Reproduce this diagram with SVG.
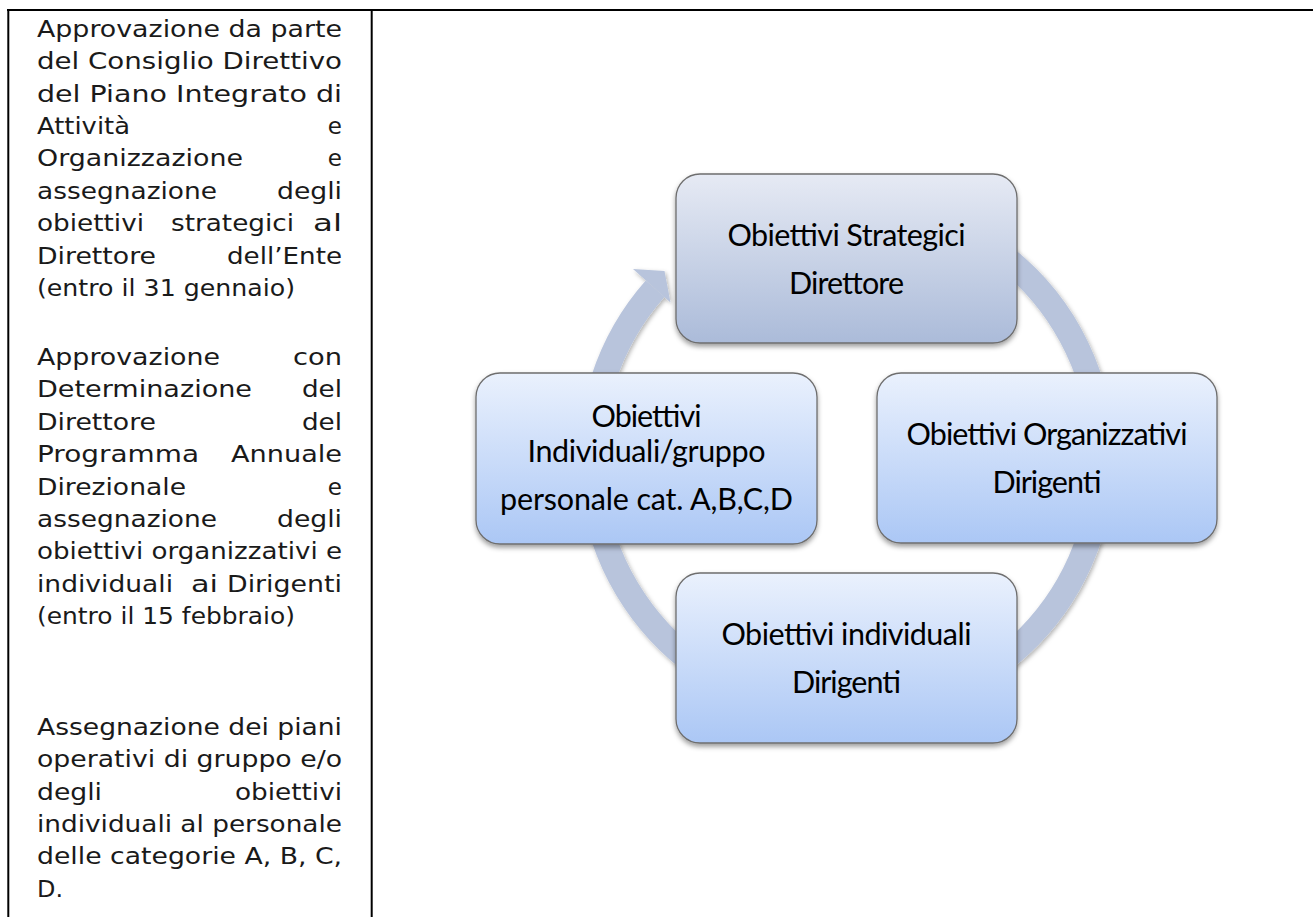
<svg xmlns="http://www.w3.org/2000/svg" width="1313" height="917" viewBox="0 0 1313 917">
<style>
.lt{font-family:"DejaVu Sans","Liberation Sans",sans-serif;font-size:23px;fill:#1a1a1a}
.bt{font-family:Lato,"Liberation Sans",sans-serif;font-size:30.5px;fill:#000;text-anchor:middle}
.box{stroke:#6e6e6e;stroke-width:1.3}
.rule{stroke:#000;stroke-width:2;fill:none}
</style>
<defs>
<linearGradient id="gTop" x1="0" y1="0" x2="0" y2="1">
<stop offset="0" stop-color="#e6eaf4"/>
<stop offset="1" stop-color="#abbbd9"/>
</linearGradient>
<linearGradient id="gBox" x1="0" y1="0" x2="0" y2="1">
<stop offset="0" stop-color="#eaf1fd"/>
<stop offset="1" stop-color="#abc7f5"/>
</linearGradient>
<filter id="sh" x="-10%" y="-10%" width="120%" height="125%">
<feDropShadow dx="0" dy="3" stdDeviation="2.5" flood-color="#000" flood-opacity="0.38"/>
</filter>
<filter id="rsh" x="-10%" y="-10%" width="120%" height="120%">
<feDropShadow dx="1.5" dy="2" stdDeviation="2" flood-color="#000" flood-opacity="0.3"/>
</filter>
</defs>
<rect width="1313" height="917" fill="#fff"/>

<g id="table">
<line class="rule" x1="7" y1="10" x2="1313" y2="10"/>
<line class="rule" x1="8.3" y1="9" x2="8.3" y2="917"/>
<line class="rule" x1="371.7" y1="9" x2="371.7" y2="917"/>
</g>

<g id="notes">
<text class="lt" x="37" y="36.7" textLength="305" lengthAdjust="spacingAndGlyphs">Approvazione da parte</text>
<text class="lt" x="37" y="69.1" textLength="305" lengthAdjust="spacingAndGlyphs">del Consiglio Direttivo</text>
<text class="lt" x="37" y="101.5" textLength="305" lengthAdjust="spacingAndGlyphs">del Piano Integrato di</text>
<text class="lt" x="37" y="133.9" textLength="93" lengthAdjust="spacingAndGlyphs">Attività</text>
<text class="lt" x="342" y="133.9" text-anchor="end">e</text>
<text class="lt" x="37" y="166.3" textLength="206" lengthAdjust="spacingAndGlyphs">Organizzazione</text>
<text class="lt" x="342" y="166.3" text-anchor="end">e</text>
<text class="lt" x="37" y="198.7" textLength="180" lengthAdjust="spacingAndGlyphs">assegnazione</text>
<text class="lt" x="277" y="198.7" textLength="65" lengthAdjust="spacingAndGlyphs">degli</text>
<text class="lt" x="37" y="231.1" textLength="107" lengthAdjust="spacingAndGlyphs">obiettivi</text>
<text class="lt" x="171" y="231.1" textLength="123" lengthAdjust="spacingAndGlyphs">strategici</text>
<text class="lt" x="313" y="231.1" textLength="29" lengthAdjust="spacingAndGlyphs">al</text>
<text class="lt" x="37" y="263.5" textLength="119" lengthAdjust="spacingAndGlyphs">Direttore</text>
<text class="lt" x="227" y="263.5" textLength="115" lengthAdjust="spacingAndGlyphs">dell’Ente</text>
<text class="lt" x="37" y="295.9" textLength="258" lengthAdjust="spacingAndGlyphs">(entro il 31 gennaio)</text>

<text class="lt" x="37" y="365" textLength="183" lengthAdjust="spacingAndGlyphs">Approvazione</text>
<text class="lt" x="293" y="365" textLength="49" lengthAdjust="spacingAndGlyphs">con</text>
<text class="lt" x="37" y="397.4" textLength="215" lengthAdjust="spacingAndGlyphs">Determinazione</text>
<text class="lt" x="302" y="397.4" textLength="40" lengthAdjust="spacingAndGlyphs">del</text>
<text class="lt" x="37" y="429.8" textLength="119" lengthAdjust="spacingAndGlyphs">Direttore</text>
<text class="lt" x="302" y="429.8" textLength="40" lengthAdjust="spacingAndGlyphs">del</text>
<text class="lt" x="37" y="462.2" textLength="162" lengthAdjust="spacingAndGlyphs">Programma</text>
<text class="lt" x="231" y="462.2" textLength="111" lengthAdjust="spacingAndGlyphs">Annuale</text>
<text class="lt" x="37" y="494.6" textLength="149" lengthAdjust="spacingAndGlyphs">Direzionale</text>
<text class="lt" x="342" y="494.6" text-anchor="end">e</text>
<text class="lt" x="37" y="527" textLength="180" lengthAdjust="spacingAndGlyphs">assegnazione</text>
<text class="lt" x="277" y="527" textLength="65" lengthAdjust="spacingAndGlyphs">degli</text>
<text class="lt" x="37" y="559.4" textLength="305" lengthAdjust="spacingAndGlyphs">obiettivi organizzativi e</text>
<text class="lt" x="37" y="591.8" textLength="136" lengthAdjust="spacingAndGlyphs">individuali</text>
<text class="lt" x="191" y="591.8" textLength="27" lengthAdjust="spacingAndGlyphs">ai</text>
<text class="lt" x="227" y="591.8" textLength="115" lengthAdjust="spacingAndGlyphs">Dirigenti</text>
<text class="lt" x="37" y="624.2" textLength="258" lengthAdjust="spacingAndGlyphs">(entro il 15 febbraio)</text>

<text class="lt" x="37" y="735" textLength="305" lengthAdjust="spacingAndGlyphs">Assegnazione dei piani</text>
<text class="lt" x="37" y="767.3" textLength="305" lengthAdjust="spacingAndGlyphs">operativi di gruppo e/o</text>
<text class="lt" x="37" y="799.6" textLength="65" lengthAdjust="spacingAndGlyphs">degli</text>
<text class="lt" x="235" y="799.6" textLength="107" lengthAdjust="spacingAndGlyphs">obiettivi</text>
<text class="lt" x="37" y="831.9" textLength="305" lengthAdjust="spacingAndGlyphs">individuali al personale</text>
<text class="lt" x="37" y="864.2" textLength="305" lengthAdjust="spacingAndGlyphs">delle categorie A, B, C,</text>
<text class="lt" x="37" y="896.5" textLength="26" lengthAdjust="spacingAndGlyphs">D.</text>
</g>

<g id="connectors" filter="url(#rsh)">
<path d="M 912.6 211.2 A 255.5 255.5 0 1 1 655.1 288.7" fill="none" stroke="#b8c4dc" stroke-width="25"/>
<polygon points="633,269 664.5,271 670.5,302.5" fill="#b8c4dc"/>
</g>

<g id="node-strategici">
<rect class="box" x="676" y="174" width="341" height="169" rx="24" fill="url(#gTop)" filter="url(#sh)"/>
<text class="bt" x="846.5" y="246" textLength="238" lengthAdjust="spacing">Obiettivi Strategici</text>
<text class="bt" x="846.5" y="294" textLength="115" lengthAdjust="spacing">Direttore</text>
</g>

<g id="node-organizzativi">
<rect class="box" x="877" y="373" width="340" height="170" rx="24" fill="url(#gBox)" filter="url(#sh)"/>
<text class="bt" x="1047" y="445" textLength="281" lengthAdjust="spacing">Obiettivi Organizzativi</text>
<text class="bt" x="1047" y="493" textLength="109" lengthAdjust="spacing">Dirigenti</text>
</g>

<g id="node-individuali-dirigenti">
<rect class="box" x="676" y="573" width="341" height="170" rx="24" fill="url(#gBox)" filter="url(#sh)"/>
<text class="bt" x="846.5" y="645" textLength="250" lengthAdjust="spacing">Obiettivi individuali</text>
<text class="bt" x="846.5" y="693" textLength="109" lengthAdjust="spacing">Dirigenti</text>
</g>

<g id="node-personale">
<rect class="box" x="476" y="373" width="341" height="171" rx="24" fill="url(#gBox)" filter="url(#sh)"/>
<text class="bt" x="646.5" y="427" textLength="110" lengthAdjust="spacing">Obiettivi</text>
<text class="bt" x="646.5" y="462" textLength="238" lengthAdjust="spacing">Individuali/gruppo</text>
<text class="bt" x="646.5" y="510" textLength="293" lengthAdjust="spacing">personale cat. A,B,C,D</text>
</g>
</svg>
